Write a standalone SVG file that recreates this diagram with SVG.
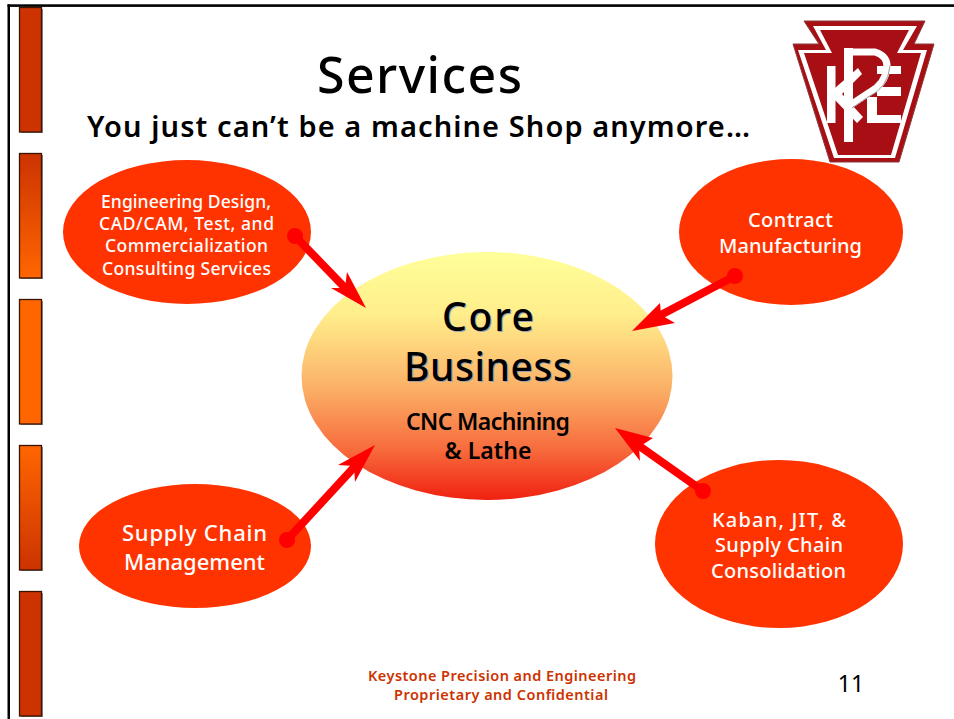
<svg xmlns="http://www.w3.org/2000/svg" width="954" height="719" viewBox="0 0 954 719">
<style>
text{font-family:"Noto Sans","Open Sans","DejaVu Sans",sans-serif;text-anchor:middle}
.w{fill:#fff;font-size:17.5px;font-weight:500}
.m{fill:#fff;font-size:20px;font-weight:500}
.wb{fill:#fff;font-size:22px;font-weight:500}
.bar{stroke:#3a1400;stroke-width:1.3}
.shadow{fill:#8c8c8c}
.oval{fill:#ff3300}
.con{stroke:#ff0000;stroke-width:8;fill:none}
.dot{fill:#ff0000}
.head{fill:#ff0000}
.foot{font-size:14.5px;font-weight:600;fill:#cc3300}
.core{font-size:39px;font-weight:500}
.cnc{font-size:23px;font-weight:600;fill:#000}
</style>
<defs>
<linearGradient id="g1" x1="0" y1="0" x2="0" y2="1"><stop offset="0" stop-color="#cc3300"/><stop offset="1" stop-color="#ff6600"/></linearGradient>
<linearGradient id="g2" x1="0" y1="0" x2="0" y2="1"><stop offset="0" stop-color="#ff6600"/><stop offset="1" stop-color="#cc3300"/></linearGradient>
<linearGradient id="core" x1="0" y1="0" x2="0" y2="1"><stop offset="0" stop-color="#ffff99"/><stop offset="0.25" stop-color="#ffee8c"/><stop offset="0.55" stop-color="#fbb066"/><stop offset="0.8" stop-color="#f76a3c"/><stop offset="1" stop-color="#f02010"/></linearGradient>
</defs>
<g id="frame">
<rect x="7.500" y="4.300" width="946.500" height="2.600" fill="#000"/>
<rect x="7.500" y="4.300" width="2.500" height="714.700" fill="#000"/>
</g>
<g id="side-bars">
<rect class="shadow" x="21" y="9" width="22" height="124"/><rect class="bar" x="19.500" y="7.500" width="22" height="124.500" fill="#cc3300"/>
<rect class="shadow" x="21" y="155" width="22" height="124"/><rect class="bar" x="19.500" y="153.500" width="22" height="124.500" fill="url(#g1)"/>
<rect class="shadow" x="21" y="301" width="22" height="124"/><rect class="bar" x="19.500" y="299.500" width="22" height="124.500" fill="#ff6600"/>
<rect class="shadow" x="21" y="447" width="22" height="124"/><rect class="bar" x="19.500" y="445.500" width="22" height="124.500" fill="url(#g2)"/>
<rect class="shadow" x="21" y="593" width="22" height="124"/><rect class="bar" x="19.500" y="591.500" width="22" height="124.500" fill="#cc3300"/>
</g>
<g id="title">
<text x="419.500" y="93" font-size="50" fill="#000" font-weight="500" textLength="205">Services</text>
<text x="418.500" y="137" font-size="29" font-weight="600" fill="#000" textLength="663">You just can’t be a machine Shop anymore…</text>
</g>
<g id="logo">
<path d="M804 21 L925 21 L914 44 L934 44 L899 162 L830 162 L793 44 L819 44 Z" fill="#a80f14" stroke="#8a3a3a" stroke-width="1"/>
<path fill-rule="evenodd" fill="#fff" d="M813 26 L917 26 L903 50 L927 50 L895 158 L834 158 L798 50 L826 50 Z M820 30 L909 30 L897 53 L921 53 L891 155 L838 155 L804 53 L832 53 Z"/>
<g fill="#fff">
<rect x="827" y="66" width="8.500" height="57"/>
<rect x="844" y="48" width="9" height="94"/>
<rect x="877" y="66" width="24" height="8"/>
<rect x="877" y="87" width="24" height="9"/>
<rect x="867" y="97" width="10" height="26"/>
<rect x="867" y="115" width="34" height="8"/>
<path d="M835 88 L858 68 L862 74 L842 94 L863 117 L857 123 L835 100 Z"/>
</g>
<path d="M846 52 L875 52 Q888 56 887 68 Q885 84 870 92 L852 104" fill="none" stroke="#fff" stroke-width="7"/>
<path d="M890 66 Q888 88 868 97 L852 108" fill="none" stroke="#999" stroke-width="1"/>
</g>
<g id="node-core">
<ellipse cx="487" cy="376" rx="185.500" ry="124" fill="url(#core)"/>
<text class="core" x="489" y="332" fill="#9aa3b5" textLength="92">Core</text>
<text class="core" x="488" y="331" fill="#000" textLength="92">Core</text>
<text class="core" x="489" y="382" fill="#9aa3b5" textLength="168">Business</text>
<text class="core" x="488" y="381" fill="#000" textLength="168">Business</text>
<text class="cnc" x="488" y="430" textLength="164">CNC Machining</text>
<text class="cnc" x="488" y="459" textLength="87">&amp; Lathe</text>
</g>
<g id="node-engineering">
<ellipse class="oval" cx="187" cy="232" rx="124" ry="72"/>
<text class="w" x="186" y="208" textLength="170">Engineering Design,</text>
<text class="w" x="186.500" y="230" textLength="175">CAD/CAM, Test, and</text>
<text class="w" x="186.500" y="252" textLength="163">Commercialization</text>
<text class="w" x="186.500" y="275" textLength="169">Consulting Services</text>
</g>
<g id="node-contract">
<ellipse class="oval" cx="791" cy="232" rx="112" ry="73"/>
<text class="m" x="790.500" y="227" textLength="85">Contract</text>
<text class="m" x="790.500" y="253" textLength="143">Manufacturing</text>
</g>
<g id="node-supply">
<ellipse class="oval" cx="195" cy="546" rx="116" ry="62"/>
<text class="wb" x="194.500" y="541" textLength="145">Supply Chain</text>
<text class="wb" x="194.500" y="570" textLength="141">Management</text>
</g>
<g id="node-kaban">
<ellipse class="oval" cx="779" cy="544" rx="124" ry="84"/>
<text class="m" x="779" y="527" textLength="134">Kaban, JIT, &amp;</text>
<text class="m" x="779" y="552" textLength="128">Supply Chain</text>
<text class="m" x="778.500" y="578" textLength="135">Consolidation</text>
</g>
<g id="connectors">
<path class="con" d="M295 236 L348 291"/><circle class="dot" cx="295" cy="236" r="8"/>
<path class="head" d="M366 308 L331 288 L345 288 L347 272 Z"/>
<path class="con" d="M735 276 L655 318"/><circle class="dot" cx="735" cy="276" r="8"/>
<path class="head" d="M632 331 L660 303 L661 315 L675 323 Z"/>
<path class="con" d="M287 540 L358 463"/><circle class="dot" cx="287" cy="540" r="8"/>
<path class="head" d="M375 445 L355 482 L354 466 L338 465 Z"/>
<path class="con" d="M703 491 L635 443"/><circle class="dot" cx="703" cy="491" r="8"/>
<path class="head" d="M615 428 L653 438 L639 447 L640 461 Z"/>
</g>
<g id="footer">
<text class="foot" x="502" y="681" textLength="268">Keystone Precision and Engineering</text>
<text class="foot" x="501" y="700" textLength="214">Proprietary and Confidential</text>
<text x="851" y="692" font-size="23" fill="#000">11</text>
</g>
</svg>
